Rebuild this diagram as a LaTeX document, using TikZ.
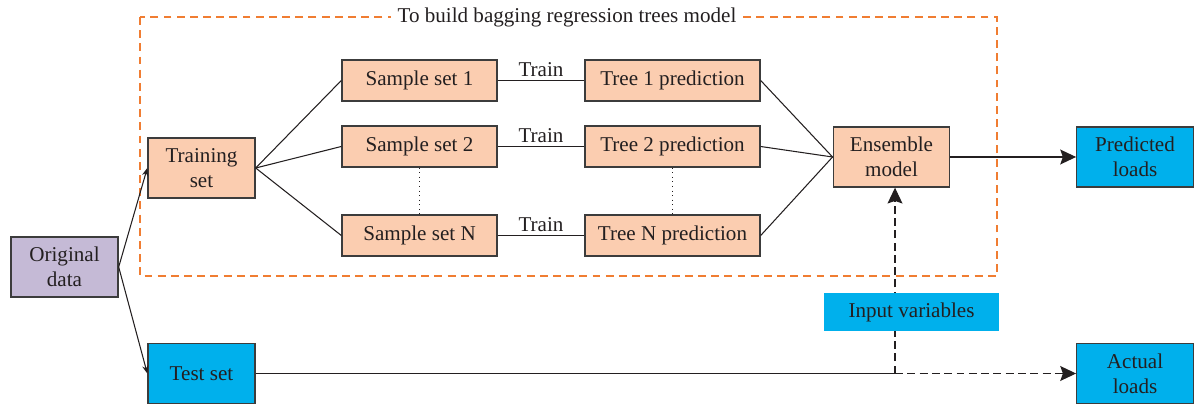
\documentclass[tikz,border=0pt]{standalone}
\usepackage{fontspec}
\setmainfont{Liberation Serif}
\usetikzlibrary{arrows.meta}

\definecolor{peach}{RGB}{251,205,176}
\definecolor{lilac}{RGB}{197,186,214}
\definecolor{skyblue}{RGB}{0,176,236}
\definecolor{frameorange}{RGB}{240,125,50}
\definecolor{ink}{RGB}{35,31,32}
\definecolor{boxline}{RGB}{60,60,60}

\begin{document}
\begin{tikzpicture}[x=0.02cm,y=-0.02cm,
		font=\fontsize{12}{14}\selectfont,
		box/.style={rectangle,draw=boxline,line width=0.8pt,text=ink,align=center,inner sep=2pt,minimum height=1.2cm},
		small box/.style={box,minimum width=2.14cm},
		wide box/.style={box,minimum width=2.33cm},
		sample box/.style={box,fill=peach,minimum width=3.1cm,minimum height=0.82cm},
		tree box/.style={box,fill=peach,minimum width=3.5cm,minimum height=0.82cm},
		link/.style={draw=ink,line width=0.6pt},
		big tip/.style={-{Stealth[length=9pt,width=8.5pt,inset=1.5pt]}},
		small tip/.style={-{Stealth[length=4.5pt,width=3.5pt]}},
		dash line/.style={link,dash pattern=on 4.5pt off 2.5pt}]

		\useasboundingbox (0,0) rectangle (1199,404);

		% dashed frame round the bagging part
		\draw[frameorange,line width=0.7pt,dash pattern=on 4.5pt off 3pt] (140,17) rectangle (997,276);
		\node[fill=white,text=ink,inner sep=4pt] (title) at (567,17) {To build bagging regression trees model};

		\node[small box,fill=lilac] (orig) at (64.5,267) {Original\\data};
		\node[small box,fill=peach] (train) at (201.5,168) {Training\\set};
		\node[small box,fill=skyblue] (test) at (201.5,373.5) {Test set};

		\node[sample box] (s1) at (419.5,80.5) {Sample set 1};
		\node[sample box] (s2) at (419.5,146.5) {Sample set 2};
		\node[sample box] (sN) at (419.5,235.5) {Sample set N};

		\node[tree box] (t1) at (672.5,80.5) {Tree 1 prediction};
		\node[tree box] (t2) at (672.5,146.5) {Tree 2 prediction};
		\node[tree box] (tN) at (672.5,235.5) {Tree N prediction};

		\node[wide box,fill=peach] (ens) at (891.5,157) {Ensemble\\model};
		\node[wide box,fill=skyblue] (pred) at (1135,157) {Predicted\\loads};
		\node[wide box,fill=skyblue] (actual) at (1135,373.5) {Actual\\loads};

		\coordinate (j) at (895,373.5);

		\path[every edge/.style={link}]
		(orig.east) edge[small tip] (train.west)
		(orig.east) edge[small tip] (test.west)
		(train.east) edge (s1.west)
		(train.east) edge (s2.west)
		(train.east) edge (sN.west)
		(s1) edge node[above,text=ink,inner sep=2pt] {Train} (t1)
		(s2) edge node[above,text=ink,inner sep=2pt] {Train} (t2)
		(sN) edge node[above,text=ink,inner sep=2pt] {Train} (tN)
		(t1.east) edge (ens.west)
		(t2.east) edge (ens.west)
		(tN.east) edge (ens.west)
		(ens) edge[big tip] (pred)
		(test.east) edge (j);

		\draw[link,dotted,line width=0.8pt] (s2.south) -- (sN.north);
		\draw[link,dotted,line width=0.8pt] (t2.south) -- (tN.north);

		\draw[dash line,big tip] (j) -- (actual.west |- j);
		\draw[dash line,big tip] (j) -- (j |- ens.south);

		\node[fill=skyblue,text=ink,minimum width=3.5cm,minimum height=0.76cm,inner sep=2pt] (input) at (911.5,312) {Input variables};
\end{tikzpicture}
\end{document}
